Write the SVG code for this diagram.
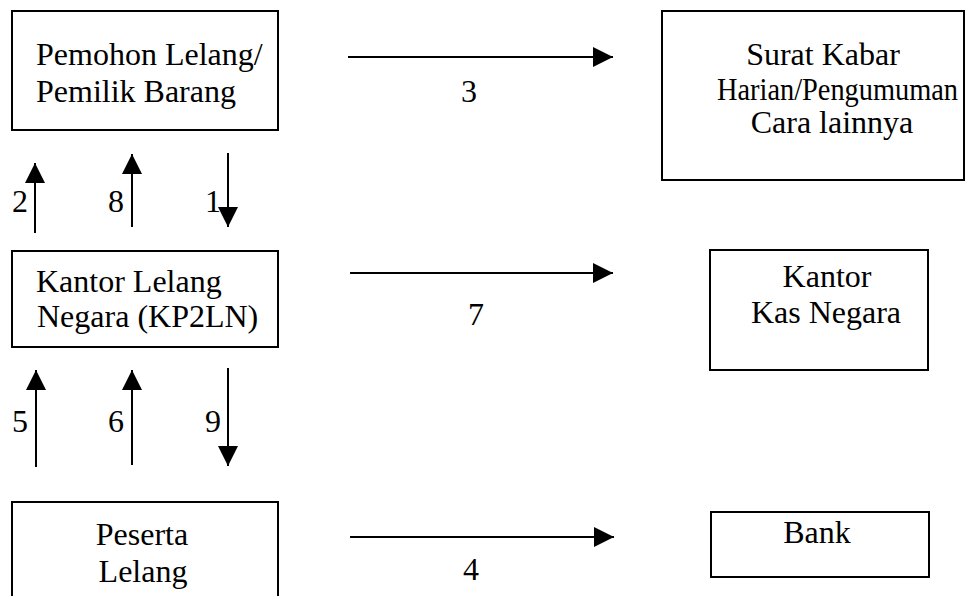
<svg xmlns="http://www.w3.org/2000/svg" width="966" height="596" viewBox="0 0 966 596" font-family="'Liberation Serif', 'DejaVu Serif', serif">
  <defs>
    <marker id="arrow" viewBox="0 0 20 20" refX="20" refY="10" markerWidth="20" markerHeight="20" markerUnits="userSpaceOnUse" orient="auto">
      <path d="M0,0 L20,10 L0,20 Z" fill="#000"/>
    </marker>
    <style>
      .box { fill: #fff; stroke: #000; stroke-width: 2; }
      text { font-family: 'Liberation Serif', 'DejaVu Serif', serif; font-size: 32px; fill: #000; }
      .mid { text-anchor: middle; }
      .conn { stroke: #000; stroke-width: 2; fill: none; marker-end: url(#arrow); }
    </style>
  </defs>
  <rect width="966" height="596" fill="#fff"/>

  <g id="pemohon">
    <rect class="box" x="12" y="11" width="266" height="119"/>
    <text x="36" y="65">Pemohon Lelang/</text>
    <text x="36" y="102">Pemilik Barang</text>
  </g>

  <g id="kantor-lelang">
    <rect class="box" x="12" y="251" width="266" height="96"/>
    <text x="36" y="292">Kantor Lelang</text>
    <text x="37" y="327">Negara (KP2LN)</text>
  </g>

  <g id="peserta">
    <rect class="box" x="12" y="502" width="266" height="110"/>
    <text class="mid" x="142" y="545">Peserta</text>
    <text class="mid" x="143" y="582">Lelang</text>
  </g>

  <g id="surat-kabar">
    <rect class="box" x="662" y="11" width="302" height="169"/>
    <text class="mid" x="823" y="65">Surat Kabar</text>
    <!-- long line squeezed to stay inside the box -->
    <text x="717" y="100" textLength="241" lengthAdjust="spacingAndGlyphs">Harian/Pengumuman</text>
    <text class="mid" x="832" y="133">Cara lainnya</text>
  </g>

  <g id="kas-negara">
    <rect class="box" x="710" y="250" width="218" height="120"/>
    <text class="mid" x="827" y="287">Kantor</text>
    <text class="mid" x="826" y="323">Kas Negara</text>
  </g>

  <g id="bank">
    <rect class="box" x="711" y="512" width="218" height="65"/>
    <text class="mid" x="817" y="543">Bank</text>
  </g>

  <g id="connectors">
    <!-- Pemohon <-> Kantor Lelang -->
    <line class="conn" x1="35" y1="233" x2="35" y2="163"/>
    <line class="conn" x1="132" y1="227" x2="132" y2="154"/>
    <line class="conn" x1="228" y1="153" x2="228" y2="227"/>
    <!-- Kantor Lelang <-> Peserta -->
    <line class="conn" x1="36" y1="467" x2="36" y2="370"/>
    <line class="conn" x1="132" y1="465" x2="132" y2="370"/>
    <line class="conn" x1="228" y1="368" x2="228" y2="466"/>
    <!-- horizontal flows -->
    <line class="conn" x1="348" y1="57" x2="613" y2="57"/>
    <line class="conn" x1="350" y1="273" x2="613" y2="273"/>
    <line class="conn" x1="350" y1="537" x2="614" y2="537"/>

    <text x="12" y="212">2</text>
    <text x="108" y="212">8</text>
    <text x="205" y="212">1</text>
    <text x="12" y="432">5</text>
    <text x="108" y="432">6</text>
    <text x="205" y="432">9</text>
    <text class="mid" x="469" y="102">3</text>
    <text class="mid" x="476" y="325">7</text>
    <text class="mid" x="471" y="580">4</text>
  </g>
</svg>
